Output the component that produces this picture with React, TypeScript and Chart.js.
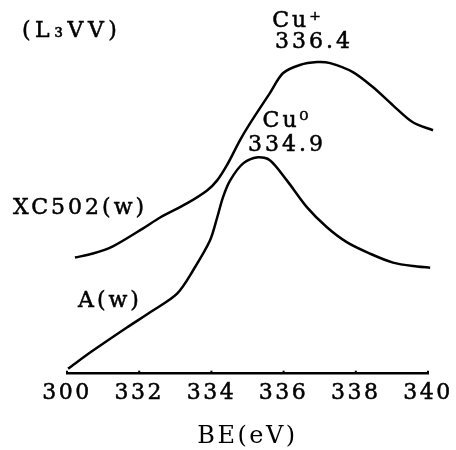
import React, { useEffect, useRef } from "react";
import { Chart, registerables } from "chart.js";

Chart.register(...registerables);

// Binding energy (eV) and intensity (a.u.)
const xcBE = [330.22, 330.72, 331.27, 332.11, 332.58, 333.32, 333.88, 334.16, 334.43, 334.79, 335.07, 335.62, 335.98, 336.45, 336.93, 337.29, 337.92, 338.48, 339.03, 339.58, 340.14];
const xcInt = [32.2, 33.3, 35.3, 40.3, 43.3, 47.2, 50.8, 53.6, 57.8, 64.7, 69.4, 77.8, 83.3, 85.6, 86.4, 86.1, 83.6, 79.4, 74.4, 69.7, 67.5];

const aBE = [330.03, 330.72, 331.66, 332.38, 333.05, 333.49, 333.96, 334.16, 334.32, 334.52, 334.88, 335.29, 335.62, 336.09, 336.65, 337.2, 337.76, 338.39, 339.03, 339.7, 340.06];
const aInt = [1.4, 6.4, 12.8, 17.5, 22.2, 28.6, 36.9, 43.3, 48.9, 53.6, 58.3, 60.0, 59.2, 53.6, 46.1, 40.6, 36.4, 33.3, 30.8, 29.7, 29.4];

const tickValues = [330, 332, 334, 336, 338, 340];
const tickLabels = ["300", "332", "334", "336", "338", "340"];

const FONT = "'DejaVu Serif', serif";

const labelsPlugin = {
  id: "labelsPlugin",
  beforeDraw(chart: any) {
    chart.ctx.letterSpacing = "2.5px";
  },
  afterDraw(chart: any) {
    const ctx = chart.ctx;
    const xs = chart.scales.x;
    ctx.save();
    ctx.strokeStyle = "#000";
    ctx.lineWidth = 2;
    const yb = xs.top;
    tickValues.forEach((v) => {
      const px = xs.getPixelForValue(v);
      ctx.beginPath();
      ctx.moveTo(px, yb);
      ctx.lineTo(px, yb - 3);
      ctx.stroke();
    });
    ctx.fillStyle = "#000";
    ctx.textBaseline = "middle";
    ctx.lineWidth = 0.5;
    const put = (t: string, x: number, y: number, align: CanvasTextAlign, sp = "3px") => {
      ctx.letterSpacing = sp;
      ctx.textAlign = align;
      ctx.fillText(t, x, y);
      ctx.strokeText(t, x, y);
    };
    ctx.font = `22px ${FONT}`;
    put("(L₃VV)", 22, 31, "left", "4.5px");
    put("XC502(w)", 13, 208, "left");
    put("A(w)", 78, 301, "left");
    put("Cu⁺", 298, 21, "center");
    put("336.4", 314, 42, "center");
    put("Cu⁰", 287, 121, "center");
    put("334.9", 287, 145, "center");
    ctx.restore();
  },
};

export default function App() {
  const ref = useRef<HTMLCanvasElement>(null);
  useEffect(() => {
    document.body.style.margin = "0";
    const chart = new Chart(ref.current!, {
      type: "line",
      data: {
        datasets: [
          {
            label: "XC502(w)",
            data: xcBE.map((x, i) => ({ x, y: xcInt[i] })),
            borderColor: "#000",
            borderWidth: 2.5,
            pointRadius: 0,
            tension: 0.3,
            fill: false,
            clip: false as any,
          },
          {
            label: "A(w)",
            data: aBE.map((x, i) => ({ x, y: aInt[i] })),
            borderColor: "#000",
            borderWidth: 2.5,
            pointRadius: 0,
            tension: 0.3,
            fill: false,
            clip: false as any,
          },
        ],
      },
      options: {
        animation: false,
        responsive: false,
        layout: { padding: { left: 67, right: 28, top: 13, bottom: 0 } },
        plugins: { legend: { display: false }, tooltip: { enabled: false } },
        scales: {
          x: {
            type: "linear",
            min: 330,
            max: 340,
            afterBuildTicks(scale: any) {
              scale.ticks = tickValues.map((v) => ({ value: v }));
            },
            ticks: {
              color: "#000",
              font: { family: FONT, size: 22 },
              padding: 6,
              maxRotation: 0,
              autoSkip: false,
              textStrokeColor: "#000",
              textStrokeWidth: 0.5,
              callback: (v: any) => {
                const i = tickValues.indexOf(Number(v));
                return i >= 0 ? tickLabels[i] : "";
              },
            },
            grid: { display: false, drawTicks: false },
            border: { display: true, color: "#000", width: 2.5 },
            title: {
              display: true,
              text: "BE(eV)",
              color: "#000",
              font: { family: FONT, size: 24, lineHeight: 1.08 },
              padding: { top: 12, bottom: 0 },
            },
          },
          y: { display: false, min: 0, max: 100 },
        },
      },
      plugins: [labelsPlugin],
    });
    return () => chart.destroy();
  }, []);
  return <canvas ref={ref} width={456} height={450} style={{ display: "block" }} />;
}
